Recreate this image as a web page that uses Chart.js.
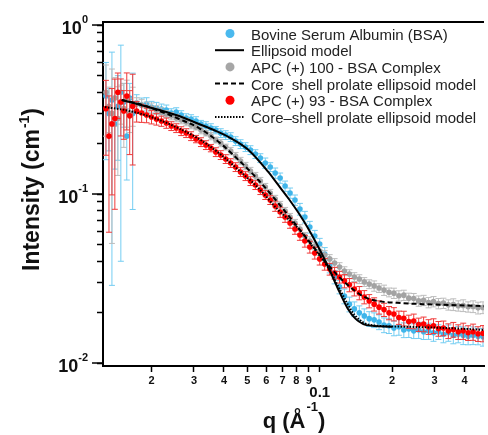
<!DOCTYPE html>
<html>
<head>
<meta charset="utf-8">
<script src="https://cdn.jsdelivr.net/npm/chart.js@4.4.0/dist/chart.umd.min.js"></script>
<style>
  html, body { margin: 0; padding: 0; background: #fff; }
</style>
</head>
<body>
<canvas id="chart" width="488" height="435"></canvas>
<script>
// scattering vector q (1/Angstrom), shared by the three measured series
const qValues = [0.01292,0.01330,0.01368,0.01407,0.01448,0.01490,0.01533,0.01577,0.01622,0.01669,
  0.01733,0.01818,0.01906,0.01998,0.02095,0.02197,0.02303,0.02415,0.02532,0.02655,
  0.02784,0.02919,0.03060,0.03209,0.03365,0.03528,0.03699,0.03878,0.04066,0.04264,
  0.04470,0.04687,0.04915,0.05153,0.05403,0.05665,0.05940,0.06228,0.06530,0.06847,
  0.07179,0.07527,0.07892,0.08275,0.08676,0.09097,0.09538,0.1000,0.1049,0.1100,
  0.1153,0.1209,0.1267,0.1329,0.1393,0.1461,0.1532,0.1606,0.1684,0.1765,
  0.1851,0.1941,0.2035,0.2134,0.2237,0.2346,0.2460,0.2579,0.2704,0.2835,
  0.2973,0.3117,0.3268,0.3427,0.3593,0.3767,0.3950,0.4141,0.4342,0.4553,0.4774];

// BSA intensity (1/cm) and error in percent
const bsaValues = [0.38,0.30,0.36,0.26,0.33,0.40,0.35,0.22,0.37,0.30,
  0.3455,0.3362,0.3407,0.3272,0.3227,0.3184,0.3141,0.3015,0.3056,0.2934,
  0.2816,0.2779,0.2704,0.2596,0.2526,0.2457,0.2391,0.2296,0.2234,0.2174,
  0.2059,0.1976,0.1897,0.1821,0.1725,0.1633,0.1526,0.1445,0.1332,0.1244,
  0.1115,0.1014,0.0922,0.0815,0.0731,0.0638,0.0564,0.0506,0.0442,0.0375,
  0.0323,0.0282,0.0249,0.0223,0.0209,0.0198,0.0190,0.0183,0.0180,0.0175,
  0.0168,0.0166,0.0161,0.0164,0.0157,0.0159,0.0155,0.0157,0.0153,0.0155,
  0.0151,0.0153,0.0148,0.0151,0.0146,0.0148,0.0146,0.0144,0.0146,0.0144,0.0143];
const bsaErrPct = [58,40,92,46,52,90,29,45,22,73,
  12,10,9,8,8,7,7,6,6,6,
  6,6,6,5,6,6,5,6,6,6,
  6,6,6,6,6,6,7,6,7,7,
  7,7,7,8,8,8,8,8,9,9,
  9,9,10,10,10,10,10,10,10,10,
  10,10,10,11,10,11,10,11,10,11,
  11,10,11,11,11,11,12,11,12,11,12];

// APC (+) 100 - BSA complex
const apc100Values = [0.40,0.33,0.30,0.37,0.28,0.35,0.32,0.36,0.30,0.34,
  0.3407,0.3362,0.3272,0.3227,0.3141,0.3056,0.2974,0.2893,0.2816,0.2741,
  0.2667,0.2561,0.2492,0.2391,0.2296,0.2203,0.2087,0.2004,0.1897,0.1797,
  0.1678,0.1569,0.1465,0.1369,0.1278,0.1194,0.1100,0.1014,0.0935,0.0861,
  0.0793,0.0731,0.0674,0.0621,0.0564,0.0527,0.0492,0.0460,0.0436,0.0413,
  0.0391,0.0370,0.0350,0.0336,0.0323,0.0314,0.0302,0.0293,0.0286,0.0278,
  0.0270,0.0262,0.0259,0.0250,0.0252,0.0242,0.0241,0.0233,0.0235,0.0228,
  0.0231,0.0225,0.0226,0.0221,0.0222,0.0218,0.0219,0.0215,0.0216,0.0212,0.0213];
const apc100ErrPct = [45,30,83,32,54,26,41,31,23,26,
  9,8,7,7,6,6,5,5,5,5,
  5,5,4,5,4,5,4,5,4,5,
  5,5,5,5,5,5,5,5,5,5,
  5,5,5,6,5,6,5,6,6,6,
  6,6,6,6,6,6,6,6,7,6,
  7,6,7,7,7,7,7,7,7,7,
  7,7,7,7,8,7,8,7,8,8,8];

// APC (+) 93 - BSA complex
const apc93Values = [0.32,0.22,0.26,0.28,0.40,0.35,0.31,0.38,0.29,0.33,
  0.3099,0.3015,0.2934,0.2855,0.2779,0.2704,0.2632,0.2526,0.2457,0.2359,
  0.2296,0.2203,0.2116,0.2031,0.1950,0.1871,0.1772,0.1702,0.1612,0.1526,
  0.1445,0.1350,0.1278,0.1194,0.1131,0.1056,0.0987,0.0922,0.0849,0.0782,
  0.0731,0.0674,0.0621,0.0572,0.0527,0.0486,0.0448,0.0413,0.0385,0.0360,
  0.0341,0.0323,0.0306,0.0290,0.0274,0.0260,0.0246,0.0233,0.0223,0.0214,
  0.0207,0.0198,0.0195,0.0186,0.0184,0.0176,0.0177,0.0169,0.0170,0.0164,
  0.0166,0.0160,0.0161,0.0155,0.0158,0.0153,0.0155,0.0151,0.0153,0.0149,0.0150];
const apc93ErrPct = [47,73,62,71,30,37,32,37,41,55,
  14,12,10,9,8,7,7,6,6,6,
  6,6,5,6,6,5,6,6,6,6,
  6,6,6,6,6,6,6,6,7,7,
  7,7,7,7,8,8,8,8,8,8,
  8,8,9,9,9,9,9,9,9,9,
  9,9,9,9,10,9,10,9,10,10,
  10,10,10,10,10,10,11,10,11,10,11];

// model fits
const ellipsoidQ = [0.01503,0.01622,0.01870,0.02156,0.02605,0.03149,0.03629,0.04185,0.05058,0.0611,0.0672,
  0.0739,0.0812,0.0893,0.0982,0.1080,0.1187,0.1305,0.1407,0.1518,0.1653,0.1998];
const ellipsoidI = [0.3599,0.3503,0.3316,0.3141,0.2893,0.2596,0.2391,0.2174,0.1821,0.1350,0.1131,
  0.0947,0.0782,0.0629,0.0492,0.0375,0.0278,0.0211,0.0183,0.0170,0.0166,0.0164];
const coreShell100Q = [0.01503,0.01783,0.02156,0.02605,0.03149,0.03806,0.0460,0.0556,0.0672,0.0797,
  0.0936,0.1111,0.1305,0.1533,0.1733,0.2095,0.2706,0.370,0.482];
const coreShell100I = [0.3599,0.3407,0.3098,0.2779,0.2457,0.2031,0.1590,0.1210,0.0885,0.0656,
  0.0492,0.0365,0.0290,0.0246,0.0233,0.0227,0.0223,0.0220,0.0217];
const coreShell93Q = [0.0128,0.01622,0.02156,0.03149,0.03806,0.0460,0.0556,0.0672,0.0812,0.0936,
  0.1080,0.1221,0.1394,0.1623,0.2239,0.3365,0.4774];
const coreShell93I = [0.3272,0.3099,0.2741,0.2116,0.1749,0.1387,0.1085,0.0804,0.0629,0.0486,
  0.0370,0.0267,0.0193,0.0168,0.0164,0.0161,0.0157];

// axis ticks
const xTickValues = [0.02,0.03,0.04,0.05,0.06,0.07,0.08,0.09,0.1,0.2,0.3,0.4];
const xTickLabels = ['2','3','4','5','6','7','8','9',['', '0.1'],'2','3','4'];
const yTickValues = [0.01,0.02,0.03,0.04,0.05,0.06,0.07,0.08,0.09,
  0.1,0.2,0.3,0.4,0.5,0.6,0.7,0.8,0.9,1];
const yMajorValues = [1, 0.1, 0.01];
const yMajorExps = ['0', '-1', '-2'];

const FONT = "'Liberation Sans', Arial, sans-serif";

const toXY = (xs, ys) => xs.map((x, i) => ({ x: x, y: ys[i] }));

// vertical error bars, drawn under each measured series
const errorBars = {
  id: 'errorBars',
  beforeDatasetDraw(chart, args) {
    const ds = chart.data.datasets[args.index];
    if (!ds.errPct) return;
    const ctx = chart.ctx, a = chart.chartArea, y = chart.scales.y;
    ctx.save();
    ctx.beginPath();
    ctx.rect(a.left, a.top, a.right - a.left, a.bottom - a.top);
    ctx.clip();
    ctx.strokeStyle = ds.errColor;
    ctx.lineWidth = 1;
    args.meta.data.forEach((pt, i) => {
      const v = ds.data[i].y;
      const e = v * ds.errPct[i] / 100;
      const yt = y.getPixelForValue(v + e);
      const yb = y.getPixelForValue(Math.max(v - e, 0.001));
      ctx.beginPath();
      ctx.moveTo(pt.x, yt); ctx.lineTo(pt.x, yb);
      ctx.moveTo(pt.x - 3, yt); ctx.lineTo(pt.x + 3, yt);
      ctx.moveTo(pt.x - 3, yb); ctx.lineTo(pt.x + 3, yb);
      ctx.stroke();
    });
    ctx.restore();
  }
};

// frame top, long major ticks, superscript labels, titles and legend
const decorations = {
  id: 'decorations',
  afterDraw(chart) {
    const ctx = chart.ctx, a = chart.chartArea, y = chart.scales.y;
    ctx.save();
    ctx.strokeStyle = '#000';
    ctx.lineWidth = 2;
    ctx.beginPath();
    ctx.moveTo(a.left - 1, a.top); ctx.lineTo(a.right, a.top);
    ctx.stroke();

    ctx.lineWidth = 1.5;
    ctx.fillStyle = '#111';
    yMajorValues.forEach((v, i) => {
      const py = y.getPixelForValue(v);
      ctx.beginPath();
      ctx.moveTo(a.left - 11, py); ctx.lineTo(a.left, py);
      ctx.stroke();
      ctx.font = 'bold 11px ' + FONT;
      const we = ctx.measureText(yMajorExps[i]).width;
      ctx.font = 'bold 18px ' + FONT;
      const wb = ctx.measureText('10').width;
      const x0 = 88 - we - wb;
      ctx.textBaseline = 'alphabetic';
      ctx.textAlign = 'left';
      ctx.fillText('10', x0, py + 8.5);
      ctx.font = 'bold 11px ' + FONT;
      ctx.fillText(yMajorExps[i], x0 + wb, py - 2);
    });

    // y title
    ctx.save();
    ctx.translate(38.5, 190);
    ctx.rotate(-Math.PI / 2);
    ctx.font = 'bold 23px ' + FONT;
    const t1 = 'Intensity (cm', t3 = ')';
    const w1 = ctx.measureText(t1).width, w3 = ctx.measureText(t3).width;
    ctx.font = 'bold 14px ' + FONT;
    const w2 = ctx.measureText('-1').width;
    let sx = -(w1 + w2 + w3) / 2;
    ctx.font = 'bold 23px ' + FONT;
    ctx.fillText(t1, sx, 0);
    ctx.font = 'bold 14px ' + FONT;
    ctx.fillText('-1', sx + w1 + 1, -10);
    ctx.font = 'bold 23px ' + FONT;
    ctx.fillText(t3, sx + w1 + w2 + 1, 0);
    ctx.restore();

    // x title
    ctx.font = 'bold 22px ' + FONT;
    const q1 = 'q (\u00C5', q3 = ')';
    const qw1 = ctx.measureText(q1).width, qw3 = ctx.measureText(q3).width;
    ctx.font = 'bold 13px ' + FONT;
    const qw2 = ctx.measureText('-1').width;
    const qx = (a.left + a.right) / 2 - (qw1 + qw2 + qw3) / 2;
    ctx.font = 'bold 22px ' + FONT;
    ctx.fillText(q1, qx, 428);
    ctx.font = 'bold 13px ' + FONT;
    ctx.fillText('-1', qx + qw1 + 1, 411);
    ctx.font = 'bold 22px ' + FONT;
    ctx.fillText(q3, qx + qw1 + qw2 + 1, 428);

    // legend
    ctx.font = '15px ' + FONT;
    ctx.fillStyle = '#222';
    const ds = chart.data.datasets;
    ds.forEach((d, i) => {
      const my = 33.5 + i * 16.7;
      if (d.showLine) {
        ctx.save();
        ctx.strokeStyle = d.borderColor;
        ctx.lineWidth = d.borderWidth;
        ctx.setLineDash(d.borderDash || []);
        ctx.beginPath();
        ctx.moveTo(215, my); ctx.lineTo(244, my);
        ctx.stroke();
        ctx.restore();
      } else {
        ctx.save();
        ctx.fillStyle = d.legendColor;
        ctx.beginPath();
        ctx.arc(230, my, 4.5, 0, Math.PI * 2);
        ctx.fill();
        ctx.restore();
      }
      ctx.fillText(d.label, 251, my + 6);
    });
    ctx.restore();
  }
};

new Chart(document.getElementById('chart'), {
  type: 'scatter',
  data: {
    datasets: [
      { label: 'Bovine Serum Albumin (BSA)', data: toXY(qValues, bsaValues), errPct: bsaErrPct,
        errColor: '#74cdf2', backgroundColor: '#3fb5ea', legendColor: '#4ab9ee',
        pointRadius: 2.8, pointBorderWidth: 0, showLine: false, order: 3 },
      { label: 'Ellipsoid model', data: toXY(ellipsoidQ, ellipsoidI), showLine: true,
        borderColor: '#000', borderWidth: 2, pointRadius: 0, cubicInterpolationMode: 'monotone', order: 0 },
      { label: 'APC (+) 100 - BSA Complex', data: toXY(qValues, apc100Values), errPct: apc100ErrPct,
        errColor: '#bdbdbd', backgroundColor: '#a3a3a3', legendColor: '#a6a6a6',
        pointRadius: 2.8, pointBorderWidth: 0, showLine: false, order: 2 },
      { label: 'Core  shell prolate ellipsoid model', data: toXY(coreShell100Q, coreShell100I), showLine: true,
        borderColor: '#000', borderWidth: 2, borderDash: [5, 3], pointRadius: 0, cubicInterpolationMode: 'monotone', order: 0 },
      { label: 'APC (+) 93 - BSA Complex', data: toXY(qValues, apc93Values), errPct: apc93ErrPct,
        errColor: '#f03a3a', backgroundColor: '#ff0000', legendColor: '#ff0000',
        pointRadius: 2.8, pointBorderWidth: 0, showLine: false, order: 1 },
      { label: 'Core\u2013shell prolate ellipsoid model', data: toXY(coreShell93Q, coreShell93I), showLine: true,
        borderColor: '#000', borderWidth: 2, borderDash: [1.5, 1.5], pointRadius: 0, cubicInterpolationMode: 'monotone', order: 0 }
    ]
  },
  options: {
    responsive: false,
    animation: false,
    events: [],
    layout: { padding: { top: 22, right: 0, left: 0, bottom: 0 } },
    plugins: { legend: { display: false }, tooltip: { enabled: false } },
    scales: {
      x: {
        type: 'logarithmic', min: 0.01256, max: 0.482,
        border: { color: '#000', width: 2 },
        grid: { drawOnChartArea: false, drawTicks: true, tickLength: 6, tickColor: '#000', tickWidth: 1.5 },
        ticks: {
          autoSkip: false, maxRotation: 0, minRotation: 0, padding: 2, color: '#111',
          font: c => (c.tick && c.tick.value === 0.1)
            ? { family: FONT, size: 15, weight: 'bold', lineHeight: 0.82 }
            : { family: FONT, size: 11, weight: 'bold' },
          callback: (v, i) => xTickLabels[i]
        },
        afterBuildTicks: s => { s.ticks = xTickValues.map(v => ({ value: v })); },
        afterFit: s => { s.height = 69; }
      },
      y: {
        type: 'logarithmic', min: 0.0096, max: 1.042,
        border: { color: '#000', width: 2 },
        grid: { drawOnChartArea: false, drawTicks: true, tickLength: 6, tickColor: '#000', tickWidth: 1.5 },
        ticks: { callback: () => '', padding: 0 },
        afterBuildTicks: s => { s.ticks = yTickValues.map(v => ({ value: v })); },
        afterFit: s => { s.width = 103; }
      }
    }
  },
  plugins: [errorBars, decorations]
});
</script>
</body>
</html>
